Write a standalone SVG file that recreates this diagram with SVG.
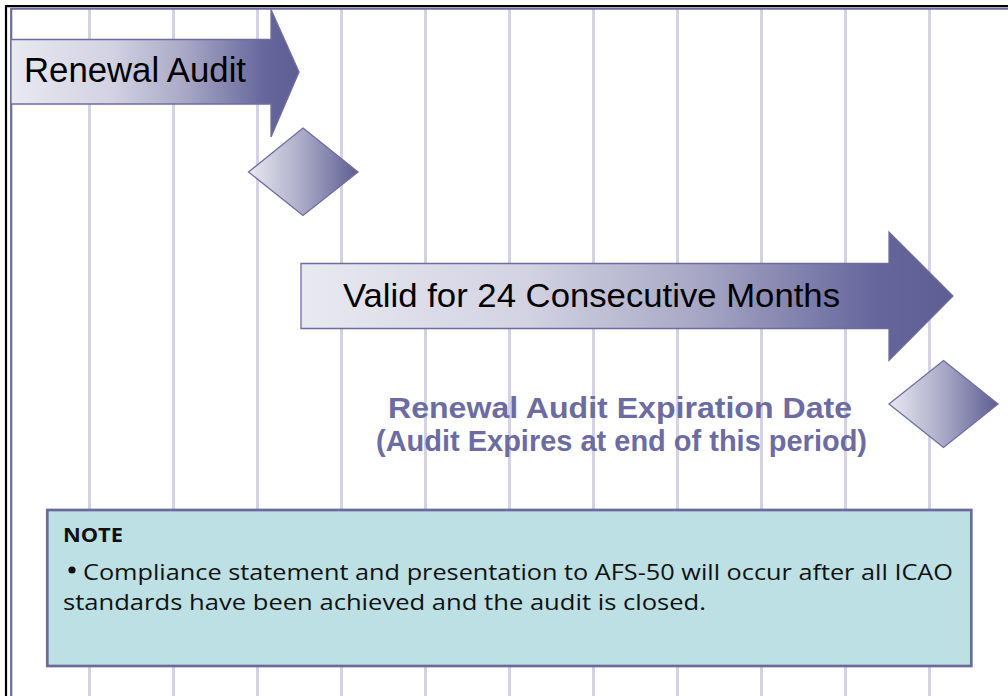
<svg xmlns="http://www.w3.org/2000/svg" width="1008" height="696" viewBox="0 0 1008 696">
  <defs>
    <linearGradient id="gArrow" x1="0" y1="0" x2="1" y2="0">
      <stop offset="0" stop-color="#e9e9f2"/>
      <stop offset="0.35" stop-color="#d2d2e2"/>
      <stop offset="0.6" stop-color="#a9a9c6"/>
      <stop offset="0.88" stop-color="#66669c"/>
      <stop offset="1" stop-color="#5e5e94"/>
    </linearGradient>
    <linearGradient id="gDiamond" x1="0" y1="0" x2="1" y2="0">
      <stop offset="0" stop-color="#e8e8f1"/>
      <stop offset="0.45" stop-color="#b0b0cb"/>
      <stop offset="1" stop-color="#5d5d93"/>
    </linearGradient>
    <clipPath id="clipLabel">
      <rect x="300" y="380" width="620" height="77"/>
    </clipPath>
    <style>
      .grid line { stroke: #d5d2e5; stroke-width: 3; }
      .shape { stroke: #6e6ea0; stroke-width: 1.3; stroke-linejoin: miter; }
      .big { font-family: "Liberation Sans", Arial, sans-serif; fill: #000; }
      .purple { font-family: "Liberation Sans", Arial, sans-serif; font-weight: 700; fill: #6c6ca2; }
      .note { font-family: "Open Sans", "DejaVu Sans", sans-serif; fill: #111; }
    </style>
  </defs>

  <rect x="0" y="0" width="1008" height="696" fill="#ffffff"/>

  <g id="grid" class="grid">
    <line x1="89.5" y1="8" x2="89.5" y2="696"/>
    <line x1="173.5" y1="8" x2="173.5" y2="696"/>
    <line x1="257.5" y1="8" x2="257.5" y2="696"/>
    <line x1="341.5" y1="8" x2="341.5" y2="696"/>
    <line x1="425.5" y1="8" x2="425.5" y2="696"/>
    <line x1="509.5" y1="8" x2="509.5" y2="696"/>
    <line x1="593.5" y1="8" x2="593.5" y2="696"/>
    <line x1="677.5" y1="8" x2="677.5" y2="696"/>
    <line x1="761.5" y1="8" x2="761.5" y2="696"/>
    <line x1="845.5" y1="8" x2="845.5" y2="696"/>
    <line x1="929.5" y1="8" x2="929.5" y2="696"/>
  </g>

  <g id="border">
    <line x1="6" y1="5" x2="6" y2="696" stroke="#000" stroke-width="2.2"/>
    <line x1="5" y1="6.1" x2="1008" y2="6.1" stroke="#000" stroke-width="2.2"/>
    <line x1="11.2" y1="8.7" x2="11.2" y2="696" stroke="#6b6b9e" stroke-width="2.2"/>
    <line x1="10" y1="8.7" x2="1008" y2="8.7" stroke="#6b6b9e" stroke-width="2"/>
  </g>

  <g id="connectors"></g>

  <g id="node-renewal-audit">
    <path class="shape" fill="url(#gArrow)" d="M11,39.5 L271,39.5 L271,9.5 L299,72 L271,137 L271,104 L11,104 Z"/>
    <text class="big" x="24" y="82" font-size="34.5" textLength="222" lengthAdjust="spacingAndGlyphs">Renewal Audit</text>
  </g>

  <g id="node-renewal-diamond">
    <polygon class="shape" fill="url(#gDiamond)" points="303,128 358,172 303,215.5 248.5,172"/>
  </g>

  <g id="node-valid">
    <path class="shape" fill="url(#gArrow)" d="M301,263.5 L889,263.5 L889,232 L953,296 L889,360.5 L889,328.5 L301,328.5 Z"/>
    <text class="big" x="343" y="306.5" font-size="34" textLength="497" lengthAdjust="spacingAndGlyphs">Valid for 24 Consecutive Months</text>
  </g>

  <g id="node-expiration-diamond">
    <polygon class="shape" fill="url(#gDiamond)" points="943.5,360.5 998,404 943.5,447.5 889,404"/>
  </g>

  <g id="node-expiration-label" clip-path="url(#clipLabel)">
    <text class="purple" x="388" y="418" font-size="29" textLength="464" lengthAdjust="spacingAndGlyphs">Renewal Audit Expiration Date</text>
    <text class="purple" x="376" y="451" font-size="29" textLength="491" lengthAdjust="spacingAndGlyphs">(Audit Expires at end of this period)</text>
  </g>

  <g id="node-note">
    <rect x="47.3" y="510" width="924" height="156" fill="#bce0e3" stroke="#6a6a9c" stroke-width="2.7"/>
    <text class="note" x="63" y="542" font-size="20" font-weight="700" textLength="60" lengthAdjust="spacingAndGlyphs">NOTE</text>
    <circle cx="72" cy="570" r="3.6" fill="#111"/>
    <text class="note" x="83" y="580" font-size="21" textLength="870" lengthAdjust="spacingAndGlyphs">Compliance statement and presentation to AFS-50 will occur after all ICAO</text>
    <text class="note" x="63" y="610" font-size="21" textLength="643" lengthAdjust="spacingAndGlyphs">standards have been achieved and the audit is closed.</text>
  </g>
</svg>
